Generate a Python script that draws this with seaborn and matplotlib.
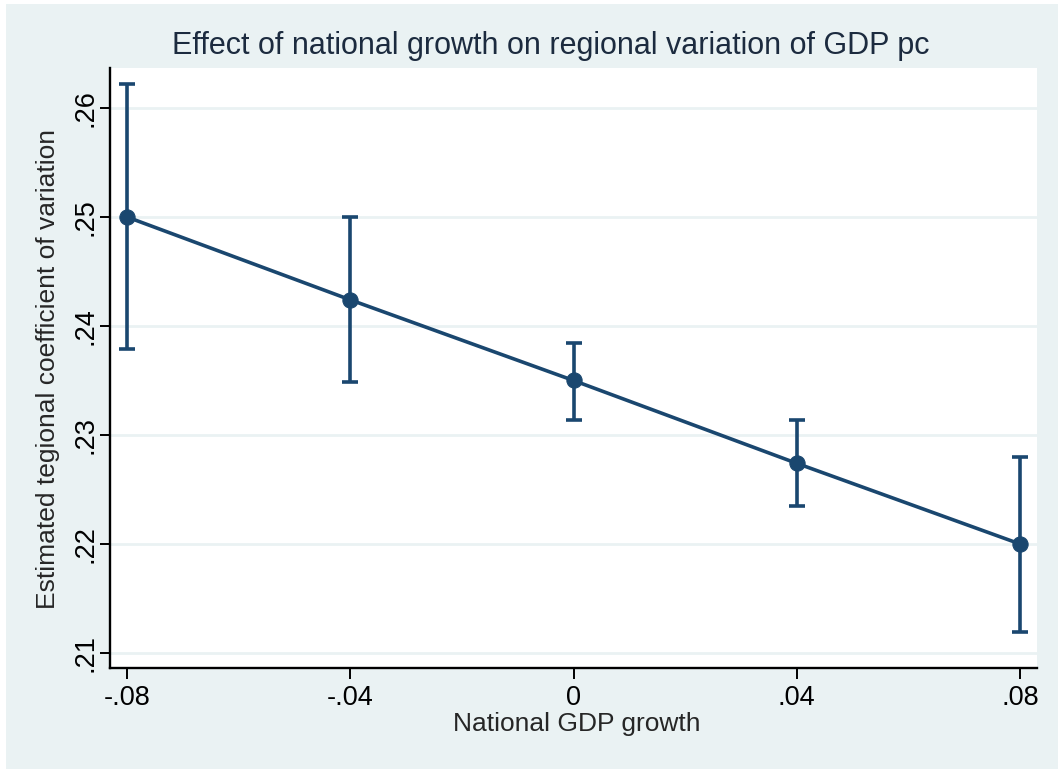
import matplotlib
matplotlib.use("Agg")
import matplotlib.pyplot as plt
import matplotlib.patches as mpatches
import pandas as pd
import seaborn as sns

# values
growth = [-0.08, -0.04, 0.0, 0.04, 0.08]
margin = [0.2500, 0.2424, 0.2350, 0.2274, 0.2200]
ci_low = [0.2379, 0.2349, 0.2314, 0.2235, 0.2119]
ci_high = [0.2622, 0.2500, 0.2384, 0.2314, 0.2280]

xticks = [-0.08, -0.04, 0.0, 0.04, 0.08]
xticklabels = ["-.08", "-.04", "0", ".04", ".08"]
yticks = [0.21, 0.22, 0.23, 0.24, 0.25, 0.26]
yticklabels = [".21", ".22", ".23", ".24", ".25", ".26"]

navy = "#1a476f"
bg = "#eaf2f3"

sns.set_style("white")
plt.rcParams["font.family"] = ["Liberation Sans", "DejaVu Sans"]

df = pd.DataFrame({"growth": growth, "margin": margin})

fig = plt.figure(figsize=(10.58, 7.69), dpi=100, facecolor="white")
fig.patches.append(mpatches.Rectangle((6 / 1058, 0), 1, (769 - 4) / 769,
                                      transform=fig.transFigure, facecolor=bg,
                                      edgecolor="none", zorder=-10))
ax = fig.add_axes([110 / 1058, 101 / 769, 927 / 1058, 600 / 769])
ax.set_facecolor("white")

yerr = [[m - lo for m, lo in zip(margin, ci_low)],
        [hi - m for m, hi in zip(margin, ci_high)]]
ax.errorbar(growth, margin, yerr=yerr, fmt="none", ecolor=navy,
            elinewidth=2.6, capsize=5.8, capthick=2.6, zorder=3)
sns.lineplot(data=df, x="growth", y="margin", ax=ax, color=navy, lw=2.6,
             marker="o", markersize=11, markeredgecolor=navy, zorder=4)

ax.set_xlim(-0.08305, 0.08305)
ax.set_ylim(0.20862, 0.26367)
ax.set_xticks(xticks)
ax.set_xticklabels(xticklabels)
ax.set_yticks(yticks)
ax.set_yticklabels(yticklabels, rotation=90, va="center")
ax.grid(axis="y", color=bg, lw=2)
ax.tick_params(axis="both", direction="out", width=1.4, color="black",
               labelsize=19.5, labelcolor="black", bottom=True, left=True)
ax.tick_params(axis="x", length=8, pad=4)
ax.tick_params(axis="y", length=7.5, pad=1)

for side in ["top", "right"]:
    ax.spines[side].set_visible(False)
for side in ["left", "bottom"]:
    ax.spines[side].set_color("black")
    ax.spines[side].set_linewidth(1.7)

ax.set_xlabel("National GDP growth", fontsize=19, va="top")
ax.xaxis.set_label_coords(0.503, -0.074)
ax.set_ylabel("Estimated tegional coefficient of variation", fontsize=19, va="center")
ax.yaxis.set_label_coords(-0.067, 0.498)

fig.text(0.5208, 1 - 46 / 769, "Effect of national growth on regional variation of GDP pc",
         ha="center", va="center", fontsize=22, color="#1c2b3f")

fig.savefig("out.png", dpi=100, facecolor="white")
